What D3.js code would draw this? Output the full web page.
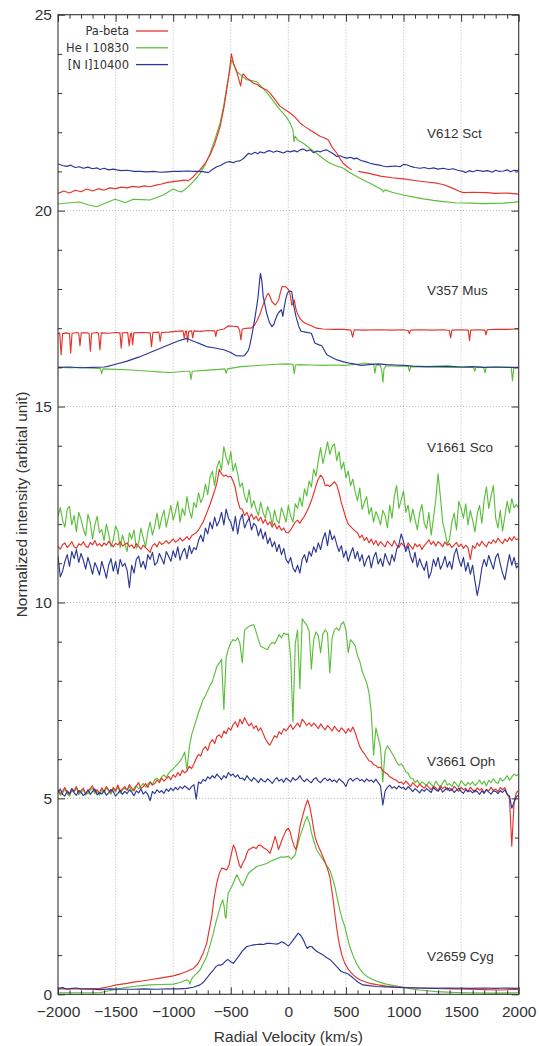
<!DOCTYPE html>
<html>
<head>
<meta charset="utf-8">
<script src="https://cdn.jsdelivr.net/npm/d3@7"></script>
<style>
  body { margin: 0; background: #fff; }
  svg { display: block; }
</style>
</head>
<body>
<svg id="chart" width="539" height="1046"></svg>
<script>
// ---------------------------------------------------------------
// Line profiles of five novae: Pa-beta, He I 10830 and [N I]10400,
// each normalised and shifted by a constant offset per object.
// ---------------------------------------------------------------

const lineNames = ["Pa-beta", "He I 10830", "[N I]10400"];
const objectNames = ["V612 Sct", "V357 Mus", "V1661 Sco", "V3661 Oph", "V2659 Cyg"];
const xTickValues = [-2000, -1500, -1000, -500, 0, 500, 1000, 1500, 2000];
const yTickValues = [0, 5, 10, 15, 20, 25];

// ---- V612 Sct : [velocity km/s, intensity] ----
const sctPaBeta = [[-2000,20.44],[-1950,20.50],[-1900,20.45],[-1850,20.52],[-1800,20.48],[-1750,20.55],[-1700,20.50],[-1650,20.56],[-1600,20.52],[-1550,20.58],[-1500,20.56],[-1450,20.60],[-1400,20.58],[-1350,20.62],[-1300,20.60],[-1250,20.63],[-1200,20.61],[-1150,20.65],[-1100,20.68],[-1050,20.72],[-1000,20.74],[-950,20.76],[-900,20.78],[-870,20.76],[-830,20.85],[-800,20.95],[-767,21.04],[-720,21.22],[-680,21.42],[-640,21.70],[-593,22.14],[-560,22.62],[-535,23.08],[-510,23.60],[-495,24.00],[-475,23.75],[-449,23.55],[-425,23.30],[-414,23.18],[-400,23.45],[-391,23.49],[-360,23.38],[-330,23.32],[-304,23.25],[-270,23.22],[-240,23.15],[-188,23.08],[-159,23.00],[-120,22.85],[-72,22.66],[-30,22.58],[15,22.49],[60,22.38],[101,22.24],[140,22.15],[188,22.06],[230,21.98],[275,21.90],[310,21.86],[347,21.80],[380,21.62],[420,21.47],[450,21.32],[476,21.21],[510,21.12],[550,21.04],[575,null],[608,21.00],[700,20.95],[800,20.88],[900,20.84],[998,20.81],[1100,20.77],[1200,20.73],[1288,20.70],[1350,20.66],[1420,20.58],[1480,20.50],[1519,20.46],[1600,20.47],[1722,20.46],[1800,20.44],[1900,20.45],[1997,20.42],[2000,20.42]];
const sctHeI = [[-2000,20.17],[-1900,20.20],[-1811,20.22],[-1740,20.15],[-1664,20.10],[-1580,20.20],[-1505,20.29],[-1450,20.24],[-1418,20.20],[-1346,20.29],[-1270,20.28],[-1201,20.27],[-1140,20.34],[-1085,20.40],[-1040,20.48],[-998,20.55],[-960,20.50],[-926,20.48],[-880,20.58],[-839,20.70],[-800,20.82],[-767,20.95],[-720,21.18],[-680,21.46],[-640,21.80],[-593,22.23],[-560,22.70],[-535,23.16],[-510,23.55],[-492,23.85],[-470,23.70],[-449,23.55],[-410,23.45],[-362,23.34],[-320,23.32],[-275,23.29],[-220,23.12],[-159,22.91],[-110,22.72],[-72,22.57],[-20,22.40],[15,22.24],[40,22.05],[49,21.76],[58,21.90],[80,21.80],[130,21.72],[190,21.58],[246,21.46],[300,21.33],[362,21.21],[420,21.14],[478,21.08],[530,20.98],[593,20.87],[650,20.78],[709,20.70],[770,20.60],[810,20.54],[825,20.48],[840,20.53],[900,20.47],[998,20.40],[1080,20.35],[1172,20.30],[1260,20.26],[1346,20.23],[1450,20.20],[1577,20.19],[1700,20.18],[1867,20.19],[1950,20.21],[2000,20.23]];
const sctNI = [[-2000,21.19],[-1960,21.15],[-1925,21.13],[-1890,21.16],[-1850,21.10],[-1815,21.12],[-1780,21.08],[-1740,21.11],[-1700,21.07],[-1660,21.09],[-1636,21.05],[-1600,21.08],[-1560,21.04],[-1520,21.06],[-1490,21.04],[-1450,21.02],[-1400,21.03],[-1340,21.00],[-1288,21.00],[-1230,20.99],[-1170,21.00],[-1114,20.98],[-1050,20.99],[-1000,21.00],[-941,21.00],[-880,21.01],[-820,21.00],[-767,21.00],[-730,20.99],[-695,20.97],[-660,21.05],[-622,21.12],[-590,21.15],[-560,21.20],[-530,21.24],[-507,21.25],[-480,21.22],[-450,21.26],[-420,21.27],[-390,21.33],[-360,21.42],[-347,21.46],[-320,21.44],[-290,21.49],[-265,21.45],[-246,21.50],[-210,21.47],[-180,21.52],[-159,21.53],[-130,21.49],[-100,21.52],[-72,21.50],[-40,21.47],[-10,21.52],[15,21.50],[50,21.53],[80,21.50],[101,21.55],[130,21.57],[160,21.52],[190,21.55],[217,21.48],[250,21.52],[280,21.50],[310,21.54],[333,21.55],[360,21.50],[390,21.45],[420,21.38],[450,21.40],[480,21.36],[506,21.34],[540,21.36],[570,21.32],[593,21.34],[630,21.28],[670,21.25],[709,21.21],[750,21.18],[790,21.16],[820,21.14],[854,21.12],[890,21.13],[930,21.14],[970,21.12],[1000,21.18],[1027,21.17],[1060,21.13],[1100,21.10],[1143,21.08],[1180,21.10],[1220,21.07],[1260,21.09],[1300,21.06],[1346,21.08],[1390,21.05],[1430,21.07],[1470,21.03],[1519,21.00],[1540,20.97],[1570,21.02],[1600,20.99],[1640,21.03],[1693,21.00],[1730,21.02],[1770,20.98],[1800,21.03],[1830,21.00],[1867,21.01],[1900,21.04],[1930,20.99],[1960,21.03],[2000,21.02]];

// ---- V357 Mus ----
const musPaBeta = [[-2000,16.85],[-1985,16.88],[-1973,16.32],[-1960,16.86],[-1930,16.88],[-1900,16.86],[-1890,16.36],[-1878,16.87],[-1830,16.89],[-1820,16.86],[-1809,16.55],[-1798,16.88],[-1740,16.88],[-1730,16.86],[-1719,16.41],[-1708,16.87],[-1660,16.89],[-1648,16.86],[-1636,16.45],[-1624,16.88],[-1560,16.87],[-1500,16.89],[-1462,16.88],[-1451,16.49],[-1440,16.88],[-1395,16.89],[-1382,16.55],[-1370,16.86],[-1362,16.88],[-1352,16.58],[-1342,16.88],[-1280,16.89],[-1200,16.88],[-1188,16.53],[-1176,16.89],[-1124,16.90],[-1113,16.66],[-1102,16.89],[-1040,16.90],[-980,16.92],[-915,16.93],[-904,16.75],[-893,16.92],[-885,16.93],[-875,16.64],[-865,16.92],[-840,16.93],[-830,16.75],[-820,16.93],[-760,16.92],[-700,16.94],[-640,16.93],[-630,16.79],[-620,16.94],[-560,16.98],[-520,17.06],[-480,17.05],[-440,17.04],[-424,16.96],[-412,16.70],[-400,16.98],[-350,17.00],[-322,17.00],[-293,17.08],[-270,17.20],[-248,17.34],[-225,17.55],[-203,17.72],[-185,17.85],[-173,17.89],[-158,17.80],[-143,17.68],[-113,17.59],[-84,17.72],[-70,17.90],[-54,18.06],[-24,18.06],[-10,18.02],[6,17.96],[20,17.80],[30,17.59],[40,17.62],[51,17.72],[65,17.50],[81,17.36],[100,17.25],[125,17.17],[150,17.12],[185,17.08],[245,17.00],[300,16.98],[400,16.97],[484,16.97],[543,16.95],[558,16.77],[572,16.96],[650,16.95],[782,16.96],[900,16.95],[1000,16.96],[1040,16.94],[1051,16.86],[1062,16.95],[1150,16.96],[1250,16.95],[1350,16.96],[1398,16.94],[1409,16.75],[1420,16.95],[1500,16.96],[1562,16.95],[1573,16.69],[1584,16.95],[1650,16.96],[1705,16.95],[1716,16.83],[1727,16.96],[1800,16.97],[1900,16.97],[1976,16.98],[2000,16.98]];
const musHeI = [[-2000,16.00],[-1900,15.99],[-1800,16.00],[-1700,15.98],[-1632,15.97],[-1621,15.84],[-1610,15.96],[-1500,15.95],[-1400,15.94],[-1300,15.92],[-1200,15.90],[-1100,15.88],[-1009,15.87],[-900,15.90],[-856,15.90],[-845,15.69],[-834,15.90],[-700,15.93],[-600,15.95],[-551,15.96],[-540,15.85],[-529,15.96],[-412,16.02],[-300,16.04],[-200,16.06],[-100,16.08],[-24,16.09],[40,16.08],[51,15.84],[62,16.06],[96,16.07],[200,16.06],[300,16.05],[400,16.06],[484,16.05],[600,16.08],[663,16.11],[741,16.08],[752,15.85],[763,16.06],[800,16.05],[812,15.90],[821,15.62],[830,15.95],[845,16.04],[950,16.03],[1040,16.03],[1051,15.90],[1062,16.02],[1200,16.01],[1379,16.00],[1607,16.00],[1618,15.90],[1629,16.00],[1696,16.00],[1707,15.86],[1718,16.00],[1800,16.01],[1935,16.00],[1946,15.66],[1957,15.98],[2000,16.00]];
const musNI = [[-2000,16.00],[-1900,16.01],[-1800,15.99],[-1700,16.00],[-1600,16.01],[-1576,16.02],[-1500,16.08],[-1400,16.16],[-1300,16.26],[-1200,16.38],[-1100,16.50],[-1000,16.62],[-950,16.68],[-904,16.72],[-880,16.74],[-850,16.70],[-800,16.64],[-750,16.58],[-710,16.53],[-650,16.50],[-561,16.45],[-500,16.38],[-457,16.30],[-400,16.29],[-382,16.30],[-350,16.42],[-337,16.53],[-315,16.85],[-293,17.21],[-275,17.55],[-263,17.80],[-250,18.20],[-242,18.40],[-230,18.20],[-218,17.80],[-200,17.55],[-188,17.38],[-165,17.15],[-143,17.04],[-125,17.10],[-113,17.21],[-95,17.35],[-84,17.40],[-60,17.47],[-48,17.30],[-35,17.55],[-24,17.72],[-10,17.88],[0,17.93],[15,17.95],[30,17.93],[45,17.60],[66,17.30],[90,17.05],[110,16.92],[150,16.90],[200,16.87],[215,16.75],[230,16.62],[260,16.58],[290,16.55],[310,16.45],[334,16.32],[380,16.25],[424,16.19],[480,16.14],[543,16.10],[600,16.07],[633,16.05],[700,16.07],[782,16.09],[850,16.07],[931,16.06],[1000,16.05],[1080,16.03],[1200,16.02],[1379,16.03],[1500,16.01],[1600,16.02],[1700,16.00],[1800,16.01],[1900,16.00],[2000,16.00]];

// ---- V1661 Sco and V3661 Oph: sampled every 20 km/s from -2000 to 2000 ----
const gridVelocity = d3.range(-2000, 2001, 20);

const scoPaBeta = [
  11.43,11.36,11.48,11.52,11.40,11.47,11.55,11.42,11.38,11.50,
  11.46,11.55,11.44,11.40,11.53,11.47,11.58,11.45,11.50,11.43,
  11.52,11.46,11.56,11.49,11.42,11.51,11.47,11.55,11.44,11.48,
  11.52,11.42,11.47,11.38,11.50,11.44,11.36,11.46,11.40,11.34,
  11.28,11.45,11.50,11.42,11.55,11.48,11.52,11.58,11.50,11.56,
  11.62,11.54,11.58,11.65,11.57,11.62,11.68,11.60,11.70,11.74,
  11.78,11.85,11.95,12.05,12.20,12.35,12.50,12.68,12.85,13.05,
  13.40,13.28,13.22,13.25,13.20,13.22,13.10,12.92,12.60,12.40,
  12.38,12.22,12.30,12.15,12.26,12.12,12.20,12.08,12.18,12.02,
  12.12,11.98,12.06,11.92,12.02,11.88,11.96,11.84,11.90,11.78,
  11.78,11.85,11.95,12.05,12.10,12.02,12.12,12.20,12.32,12.45,
  12.60,12.78,12.98,13.15,13.25,13.18,12.98,13.00,12.96,13.02,
  13.08,13.00,12.80,12.55,12.35,12.15,12.00,11.94,11.88,11.82,
  11.78,11.65,11.72,11.58,11.66,11.52,11.62,11.48,11.58,11.45,
  11.55,11.48,11.42,11.56,11.50,11.44,11.58,11.46,11.40,11.52,
  11.46,11.38,11.52,11.44,11.36,11.50,11.42,11.48,11.35,11.45,
  11.52,11.60,11.48,11.56,11.44,11.55,11.50,11.42,11.54,11.46,
  11.50,11.40,11.47,11.53,11.42,11.49,11.38,11.46,11.40,11.10,
  11.45,11.38,11.52,11.44,11.56,11.48,11.42,11.55,11.50,11.60,
  11.52,11.64,11.56,11.50,11.62,11.55,11.66,11.58,11.68,11.60,
  11.63];
const scoHeI = [
  12.19,12.42,12.10,11.92,12.38,12.45,11.98,12.22,11.80,12.30,
  12.12,11.88,11.70,12.25,12.05,11.62,11.98,12.20,11.78,11.86,
  11.58,12.00,11.75,11.42,11.60,11.95,11.82,11.40,11.72,11.50,
  11.30,11.78,11.62,11.85,11.38,11.52,11.90,11.65,11.42,11.80,
  12.05,11.72,11.95,12.28,11.88,12.15,12.36,11.92,12.20,12.48,
  12.10,12.32,12.58,12.05,12.40,12.22,12.70,12.35,12.15,12.55,
  12.42,12.80,12.55,12.68,13.02,12.75,13.20,13.35,12.98,13.45,
  13.62,13.38,13.98,13.70,13.52,13.85,13.35,13.55,13.28,12.95,
  13.05,12.72,12.55,12.88,12.42,12.60,12.38,12.22,12.56,12.30,
  12.15,12.45,12.28,11.98,12.36,12.10,12.02,12.42,12.25,12.05,
  12.48,12.20,12.05,12.52,12.40,12.68,12.45,12.90,12.72,13.10,
  12.95,13.40,13.22,13.62,13.95,13.55,13.80,14.10,13.78,13.98,
  14.05,13.62,13.85,13.40,13.58,13.18,13.35,12.98,13.15,12.82,
  12.60,12.92,12.38,12.55,12.70,12.25,12.42,12.05,12.32,12.18,
  11.98,12.35,12.22,11.90,12.48,12.15,12.70,12.98,12.40,12.62,
  12.85,12.30,12.48,12.05,12.38,12.12,11.85,12.28,12.50,12.02,
  11.88,12.30,11.72,12.15,12.62,13.28,12.70,12.05,11.80,11.48,
  11.62,12.05,12.28,11.85,12.58,12.40,12.15,12.52,11.98,12.35,
  12.10,11.80,12.25,12.48,12.02,12.62,12.95,12.40,12.72,12.98,
  12.15,11.90,12.35,11.82,12.20,12.58,12.28,12.65,12.42,12.50,
  12.40];
const scoNI = [
  11.18,10.65,10.80,11.05,11.22,10.92,11.30,11.12,11.35,11.02,
  11.25,11.08,10.85,11.15,10.95,10.72,11.02,10.88,10.70,11.05,
  10.85,10.62,10.95,11.12,10.80,11.05,10.72,11.10,10.92,11.00,
  10.82,10.38,10.95,10.75,11.10,11.18,10.90,11.05,10.85,11.22,
  11.10,11.28,10.95,11.02,11.25,11.12,10.98,11.30,11.18,11.05,
  11.32,11.15,11.42,11.08,11.28,11.38,11.12,11.45,11.25,11.40,
  11.35,11.58,11.72,11.55,11.90,11.75,12.05,11.88,12.18,11.95,
  12.08,12.30,11.98,12.38,12.15,12.05,11.82,12.20,11.75,12.10,
  12.25,11.90,12.05,12.15,11.85,12.02,11.95,11.70,11.88,11.62,
  11.80,11.50,11.65,11.42,11.55,11.30,11.48,11.22,11.38,11.10,
  11.00,11.15,10.88,10.78,10.95,10.75,11.10,11.22,11.02,11.30,
  11.18,11.42,11.28,11.52,11.35,11.62,11.78,11.45,11.85,11.60,
  11.70,11.48,11.30,11.45,11.15,11.32,11.05,11.25,11.40,11.12,
  11.30,11.05,11.22,10.92,11.10,11.20,10.88,11.15,11.28,10.98,
  11.12,10.92,11.25,11.08,10.95,11.22,11.05,11.35,11.48,11.75,
  11.55,11.30,11.45,11.18,11.02,11.28,10.90,11.12,10.95,10.82,
  11.05,10.62,10.78,11.10,10.92,11.15,10.85,10.98,11.18,10.90,
  11.05,10.85,11.22,11.38,11.10,10.92,11.15,10.80,11.02,10.72,
  10.95,10.55,10.18,10.48,10.88,11.10,10.92,11.20,11.02,10.85,
  11.15,11.25,10.98,10.75,10.58,10.92,11.22,10.95,11.15,10.88,
  10.95];

const ophPaBeta = [
  5.22,5.12,5.18,5.28,5.15,5.10,5.24,5.19,5.30,5.14,
  5.20,5.26,5.12,5.18,5.25,5.32,5.16,5.22,5.13,5.27,
  5.18,5.30,5.22,5.15,5.28,5.20,5.34,5.17,5.24,5.30,
  5.21,5.35,5.26,5.19,5.32,5.40,5.25,5.30,5.38,5.28,
  5.42,5.34,5.38,5.47,5.40,5.52,5.44,5.50,5.56,5.48,
  5.60,5.54,5.66,5.58,5.72,5.65,5.70,5.82,5.76,5.88,
  6.02,6.12,6.08,6.25,6.32,6.22,6.42,6.50,6.40,6.58,
  6.62,6.55,6.72,6.65,6.80,6.74,6.88,6.95,6.82,7.02,
  6.90,7.06,6.94,6.85,6.92,6.78,6.86,6.72,6.80,6.66,
  6.52,6.42,6.36,6.48,6.60,6.55,6.70,6.64,6.78,6.72,
  6.80,6.88,6.76,6.84,6.92,6.82,7.02,6.95,6.86,6.93,
  6.84,6.92,6.86,6.78,6.90,6.82,6.75,6.86,6.80,6.72,
  6.84,6.76,6.70,6.80,6.74,6.66,6.78,6.70,6.82,6.68,
  6.50,6.32,6.22,6.14,6.05,5.96,5.94,5.86,5.84,5.78,
  5.80,5.70,5.66,5.62,5.55,5.52,5.48,5.46,5.40,5.42,
  5.36,5.44,5.38,5.30,5.40,5.34,5.28,5.36,5.31,5.26,
  5.34,5.28,5.22,5.31,5.27,5.20,5.32,5.25,5.30,5.21,
  5.27,5.20,5.31,5.24,5.18,5.28,5.22,5.26,5.17,5.29,
  5.22,5.16,5.27,5.21,5.25,5.14,5.23,5.19,5.28,5.20,
  5.24,5.17,5.28,5.22,5.27,5.12,5.00,3.78,4.90,5.15,
  5.20];
const ophHeI = [
  5.18,5.08,5.14,5.24,5.11,5.06,5.20,5.16,5.27,5.10,
  5.15,5.22,5.09,5.13,5.21,5.26,5.12,5.18,5.08,5.23,
  5.14,5.27,5.19,5.11,5.24,5.16,5.30,5.13,5.21,5.26,
  5.21,5.30,5.18,5.26,5.33,5.24,5.31,5.38,5.29,5.36,
  5.42,5.35,5.48,5.52,5.45,5.55,5.60,5.53,5.64,5.70,
  5.75,5.82,5.88,5.95,6.05,6.18,5.72,6.30,6.62,6.80,
  7.00,7.19,7.35,7.52,7.62,7.75,7.88,7.98,8.18,8.37,
  8.45,8.55,7.27,8.60,8.82,8.97,9.05,9.02,9.10,8.95,
  8.46,9.30,9.35,9.39,9.42,9.43,9.25,9.05,8.88,8.85,
  8.82,8.80,8.92,8.98,8.95,9.05,9.18,9.10,9.22,9.18,
  9.20,8.60,6.95,8.95,9.30,7.80,9.58,9.50,9.42,9.28,
  8.30,9.05,9.25,9.15,8.72,9.20,9.30,9.22,8.20,9.10,
  9.30,9.35,9.28,9.45,9.50,9.30,8.72,9.05,8.98,8.90,
  8.65,8.50,8.25,8.10,7.95,7.70,7.20,6.10,6.80,6.55,
  6.30,5.42,6.20,6.34,6.25,6.15,6.05,5.92,5.85,5.88,
  5.80,5.68,5.64,5.52,5.50,5.40,5.46,5.36,5.42,5.38,
  5.33,5.42,5.36,5.30,5.44,5.35,5.28,5.40,5.47,5.34,
  5.38,5.30,5.43,5.36,5.29,5.45,5.38,5.32,5.41,5.35,
  5.42,5.33,5.38,5.47,5.36,5.44,5.32,5.46,5.40,5.50,
  5.42,5.38,5.52,5.44,5.50,5.58,5.46,5.55,5.62,5.58,
  5.62];
const ophNI = [
  5.15,5.24,5.10,5.06,5.19,5.12,5.25,5.14,5.08,5.20,
  5.16,5.07,5.12,5.22,5.10,5.18,5.24,5.09,5.15,5.11,
  5.20,5.08,5.14,5.23,5.17,5.06,5.13,5.21,5.10,5.18,
  5.12,5.22,5.16,5.07,5.19,5.14,5.24,5.11,5.17,5.10,
  4.94,5.18,5.12,5.22,5.15,5.20,5.13,5.24,5.18,5.26,
  5.20,5.28,5.22,5.30,5.25,5.32,5.27,5.22,5.30,5.35,
  4.98,5.42,5.38,5.48,5.44,5.55,5.50,5.58,5.52,5.62,
  5.55,5.48,5.58,5.52,5.66,5.58,5.62,5.54,5.60,5.50,
  5.52,5.46,5.58,5.50,5.44,5.53,5.47,5.40,5.51,5.45,
  5.42,5.50,5.45,5.38,5.47,5.53,5.44,5.49,5.41,5.52,
  5.47,5.42,5.53,5.46,5.50,5.58,5.48,5.43,5.50,5.44,
  5.40,5.49,5.53,5.44,5.40,5.48,5.52,5.45,5.50,5.43,
  5.47,5.41,5.50,5.45,5.40,5.30,5.46,5.51,5.44,5.49,
  5.52,5.45,5.48,5.42,5.50,5.44,5.47,5.41,5.49,5.40,
  5.32,4.83,5.18,5.28,5.34,5.26,5.30,5.24,5.32,5.26,
  5.28,5.22,5.30,5.24,5.17,5.25,5.20,5.14,5.23,5.18,
  5.25,5.20,5.15,5.28,5.22,5.18,5.26,5.16,5.22,5.27,
  5.19,5.24,5.15,5.21,5.26,5.18,5.13,5.22,5.17,5.20,
  5.14,5.21,5.17,5.10,5.19,5.13,5.22,5.16,5.11,5.19,
  5.18,5.12,5.20,5.15,5.22,5.10,5.06,4.75,4.90,5.05,
  5.08];

// ---- V2659 Cyg ----
const cygPaBeta = [[-2000,0.14],[-1800,0.14],[-1636,0.15],[-1550,0.20],[-1491,0.24],[-1400,0.28],[-1346,0.31],[-1270,0.34],[-1201,0.37],[-1100,0.42],[-999,0.47],[-940,0.52],[-883,0.58],[-825,0.66],[-790,0.76],[-767,0.88],[-740,1.05],[-709,1.30],[-690,1.60],[-665,1.98],[-645,2.45],[-622,2.83],[-600,3.08],[-578,3.22],[-555,3.20],[-535,3.17],[-515,3.30],[-506,3.43],[-490,3.65],[-477,3.81],[-460,3.70],[-442,3.48],[-425,3.30],[-413,3.22],[-395,3.35],[-375,3.46],[-360,3.60],[-346,3.69],[-325,3.72],[-303,3.76],[-280,3.72],[-260,3.80],[-245,3.81],[-215,3.74],[-187,3.69],[-159,3.60],[-135,3.82],[-115,4.03],[-100,3.88],[-86,3.69],[-65,3.86],[-43,4.03],[-20,4.18],[0,4.24],[15,4.15],[29,3.98],[50,3.78],[66,3.69],[85,3.98],[101,4.28],[115,4.45],[130,4.62],[150,4.82],[167,4.96],[185,4.80],[202,4.54],[218,4.25],[231,4.03],[250,3.85],[274,3.69],[295,3.55],[317,3.39],[340,3.20],[360,3.00],[375,2.70],[389,2.41],[404,2.05],[418,1.73],[432,1.45],[447,1.22],[467,0.98],[490,0.79],[520,0.64],[548,0.54],[585,0.44],[620,0.37],[665,0.32],[706,0.28],[780,0.24],[850,0.21],[920,0.19],[994,0.18],[1150,0.16],[1282,0.15],[1420,0.14],[1571,0.13],[1700,0.12],[1859,0.11],[1974,0.13],[2000,0.12]];
const cygHeI = [[-2000,0.04],[-1800,0.04],[-1636,0.04],[-1560,0.09],[-1491,0.13],[-1420,0.17],[-1346,0.20],[-1270,0.22],[-1201,0.24],[-1100,0.25],[-999,0.26],[-940,0.30],[-883,0.37],[-865,0.34],[-854,0.26],[-842,0.38],[-825,0.45],[-800,0.52],[-767,0.62],[-740,0.78],[-709,0.96],[-680,1.25],[-651,1.56],[-630,1.82],[-607,2.07],[-585,2.30],[-570,2.41],[-558,2.25],[-548,1.98],[-541,1.94],[-532,2.30],[-523,2.58],[-491,2.75],[-470,2.90],[-448,3.05],[-430,2.95],[-410,2.82],[-396,2.77],[-375,2.90],[-346,3.09],[-310,3.18],[-274,3.26],[-230,3.30],[-187,3.34],[-159,3.39],[-110,3.45],[-72,3.50],[-30,3.50],[0,3.52],[15,3.48],[29,3.45],[45,3.52],[58,3.55],[80,3.80],[101,4.03],[115,4.15],[130,4.28],[145,4.42],[164,4.54],[185,4.35],[202,4.11],[222,3.90],[245,3.69],[275,3.55],[303,3.43],[330,3.30],[360,3.17],[382,2.98],[404,2.75],[425,2.45],[447,2.15],[468,1.92],[490,1.73],[512,1.46],[533,1.22],[560,1.00],[591,0.79],[620,0.65],[648,0.54],[690,0.44],[735,0.37],[790,0.31],[850,0.26],[920,0.22],[994,0.18],[1066,0.14],[1138,0.11],[1210,0.09],[1282,0.07],[1427,0.05],[1571,0.04],[1800,0.03],[2000,0.04]];
const cygNI = [[-2000,0.15],[-1960,0.17],[-1920,0.13],[-1880,0.15],[-1840,0.16],[-1800,0.14],[-1700,0.13],[-1636,0.12],[-1550,0.14],[-1450,0.13],[-1346,0.13],[-1250,0.14],[-1150,0.13],[-1050,0.14],[-999,0.14],[-940,0.14],[-883,0.15],[-825,0.18],[-767,0.24],[-740,0.30],[-709,0.41],[-680,0.52],[-651,0.62],[-630,0.70],[-607,0.75],[-590,0.74],[-570,0.77],[-548,0.84],[-526,0.89],[-505,0.84],[-477,0.79],[-455,0.88],[-433,0.96],[-400,1.10],[-361,1.22],[-330,1.24],[-303,1.26],[-275,1.27],[-245,1.28],[-215,1.27],[-187,1.30],[-159,1.30],[-130,1.29],[-101,1.28],[-80,1.30],[-58,1.34],[-30,1.30],[0,1.23],[20,1.30],[43,1.39],[65,1.48],[86,1.56],[108,1.50],[130,1.39],[150,1.25],[164,1.17],[185,1.22],[202,1.22],[225,1.15],[245,1.10],[275,1.05],[303,1.00],[330,0.94],[360,0.89],[390,0.80],[418,0.71],[440,0.64],[461,0.58],[490,0.55],[519,0.52],[545,0.46],[576,0.38],[610,0.30],[648,0.24],[700,0.22],[764,0.20],[850,0.19],[920,0.18],[994,0.17],[1100,0.16],[1282,0.15],[1400,0.16],[1571,0.15],[1700,0.16],[1800,0.15],[1900,0.16],[1974,0.15],[2000,0.16]];

// ---------------------------------------------------------------
// Layout
// ---------------------------------------------------------------
const plot = { left: 58, right: 518.7, top: 14.7, bottom: 994.3 };
const colors = { pa: "#e5332b", he: "#5cbf3c", ni: "#2b3796" };
const fontMain = "'Liberation Sans', Arial, sans-serif";
const fontLegend = "'DejaVu Sans', sans-serif";

const svg = d3.select("#chart");
const x = d3.scaleLinear().domain([-2000, 2000]).range([plot.left, plot.right]);
const y = d3.scaleLinear().domain([0, 25]).range([plot.bottom, plot.top]);

const pw = plot.right - plot.left, ph = plot.bottom - plot.top;

svg.append("defs").append("clipPath").attr("id", "plotClip")
  .append("rect").attr("x", plot.left).attr("y", plot.top).attr("width", pw).attr("height", ph);

// dotted grid at major ticks
const grid = svg.append("g").attr("stroke", "#a8a8a8").attr("stroke-width", 0.8)
  .attr("stroke-dasharray", "1,2");
grid.selectAll(".gx").data(xTickValues.slice(1, -1)).join("line")
  .attr("x1", d => x(d)).attr("x2", d => x(d))
  .attr("y1", plot.top).attr("y2", plot.bottom);
grid.selectAll(".gy").data(yTickValues.slice(1, -1)).join("line")
  .attr("x1", plot.left).attr("x2", plot.right)
  .attr("y1", d => y(d)).attr("y2", d => y(d));

// spectra (He I first, Pa-beta over it, [N I] on top)
const pairsFromGrid = vals => vals.map((v, i) => [gridVelocity[i], v]);
const series = [
  { data: sctHeI, c: colors.he }, { data: sctPaBeta, c: colors.pa }, { data: sctNI, c: colors.ni },
  { data: musHeI, c: colors.he }, { data: musPaBeta, c: colors.pa }, { data: musNI, c: colors.ni },
  { data: pairsFromGrid(scoHeI), c: colors.he }, { data: pairsFromGrid(scoPaBeta), c: colors.pa }, { data: pairsFromGrid(scoNI), c: colors.ni },
  { data: pairsFromGrid(ophHeI), c: colors.he }, { data: pairsFromGrid(ophPaBeta), c: colors.pa }, { data: pairsFromGrid(ophNI), c: colors.ni },
  { data: cygHeI, c: colors.he }, { data: cygPaBeta, c: colors.pa }, { data: cygNI, c: colors.ni }
];
const line = d3.line()
  .defined(d => d[1] != null && d[0] != null)
  .x(d => x(d[0])).y(d => y(d[1]));
svg.append("g").attr("clip-path", "url(#plotClip)")
  .selectAll("path").data(series).join("path")
  .attr("d", s => line(s.data))
  .attr("fill", "none").attr("stroke", s => s.c)
  .attr("stroke-width", 1.15).attr("stroke-linejoin", "round");

// axes with inward ticks on all four sides
const minorX = d3.range(-2000, 2001, 100).filter(v => v % 500 !== 0);
const minorY = d3.range(0, 26, 1).filter(v => v % 5 !== 0);
function styleAxis(g) {
  g.select(".domain").remove();
  g.selectAll(".tick line").attr("stroke", "#333").attr("stroke-width", 1);
  g.selectAll("text").attr("fill", "#333").attr("font-family", fontMain).attr("font-size", 15.5);
}
svg.append("g").attr("transform", `translate(0,${plot.bottom})`)
  .call(d3.axisBottom(x).tickValues(xTickValues).tickSize(-7).tickPadding(12).tickFormat(d3.format("d")))
  .call(styleAxis);
svg.append("g").attr("transform", `translate(0,${plot.bottom})`)
  .call(d3.axisBottom(x).tickValues(minorX).tickSize(-4).tickFormat(""))
  .call(styleAxis);
svg.append("g").attr("transform", `translate(0,${plot.top})`)
  .call(d3.axisTop(x).tickValues(xTickValues).tickSize(-7).tickFormat(""))
  .call(styleAxis);
svg.append("g").attr("transform", `translate(0,${plot.top})`)
  .call(d3.axisTop(x).tickValues(minorX).tickSize(-4).tickFormat(""))
  .call(styleAxis);
svg.append("g").attr("transform", `translate(${plot.left},0)`)
  .call(d3.axisLeft(y).tickValues(yTickValues).tickSize(-7).tickPadding(6))
  .call(styleAxis);
svg.append("g").attr("transform", `translate(${plot.left},0)`)
  .call(d3.axisLeft(y).tickValues(minorY).tickSize(-4).tickFormat(""))
  .call(styleAxis);
svg.append("g").attr("transform", `translate(${plot.right},0)`)
  .call(d3.axisRight(y).tickValues(yTickValues).tickSize(-7).tickFormat(""))
  .call(styleAxis);
svg.append("g").attr("transform", `translate(${plot.right},0)`)
  .call(d3.axisRight(y).tickValues(minorY).tickSize(-4).tickFormat(""))
  .call(styleAxis);

// frame
svg.append("rect").attr("x", plot.left).attr("y", plot.top)
  .attr("width", pw).attr("height", ph)
  .attr("fill", "none").attr("stroke", "#333").attr("stroke-width", 1.1);

// axis titles
svg.append("text").attr("x", (plot.left + plot.right) / 2).attr("y", 1042)
  .attr("text-anchor", "middle").attr("font-family", fontMain).attr("font-size", 15.5)
  .attr("fill", "#333").text("Radial Velocity (km/s)");
svg.append("text")
  .attr("transform", `translate(27,${(plot.top + plot.bottom) / 2}) rotate(-90)`)
  .attr("text-anchor", "middle").attr("font-family", fontMain).attr("font-size", 15.5)
  .attr("fill", "#333").text("Normalized intensity (arbital unit)");

// object names, placed at an intensity level inside each panel
const nameLevels = [21.86, 17.85, 13.84, 5.83, 0.85];
svg.append("g").selectAll("text").data(objectNames).join("text")
  .attr("x", 427).attr("y", (d, i) => y(nameLevels[i]))
  .attr("font-family", fontMain).attr("font-size", 13.5).attr("fill", "#333")
  .text(d => d);

// legend
const legendColors = [colors.pa, colors.he, colors.ni];
const lg = svg.append("g");
lineNames.forEach((name, i) => {
  const cy = 31 + i * 16.8;
  lg.append("text").attr("x", 129).attr("y", cy + 4.2).attr("text-anchor", "end")
    .attr("font-family", fontLegend).attr("font-size", 11.5).attr("fill", "#333").text(name);
  lg.append("line").attr("x1", 136).attr("x2", 168).attr("y1", cy).attr("y2", cy)
    .attr("stroke", legendColors[i]).attr("stroke-width", 1.3);
});
</script>
</body>
</html>
